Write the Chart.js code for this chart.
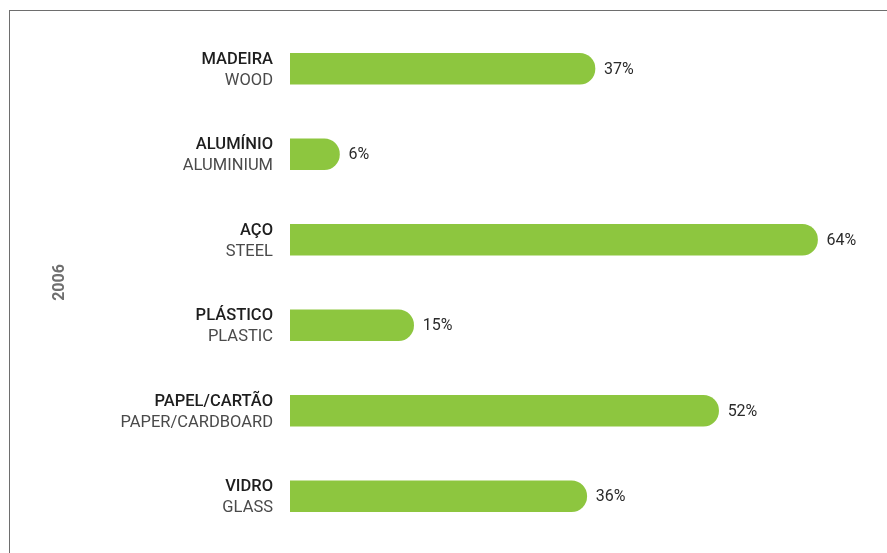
<!DOCTYPE html>
<html>
<head>
<meta charset="utf-8">
<script src="https://cdn.jsdelivr.net/npm/chart.js@4"></script>
<style>
  html, body { margin: 0; padding: 0; background: #fff; }
  #wrap { position: relative; width: 887px; height: 553px; overflow: hidden; }
  #frame {
    position: absolute; left: 9px; top: 10px; right: -2px; bottom: -2px;
    border-top: 1px solid #6e6e6e; border-left: 1px solid #6e6e6e;
  }
  canvas { position: absolute; left: 0; top: 0; }
</style>
</head>
<body>
<div id="wrap">
  <div id="frame"></div>
  <canvas id="materialChart" width="887" height="553"></canvas>
</div>
<script>
const labelsPt = ['MADEIRA', 'ALUMÍNIO', 'AÇO', 'PLÁSTICO', 'PAPEL/CARTÃO', 'VIDRO'];
const labelsEn = ['WOOD', 'ALUMINIUM', 'STEEL', 'PLASTIC', 'PAPER/CARDBOARD', 'GLASS'];
const values = [37, 6, 64, 15, 52, 36];
const year = '2006';

const fontFamily = 'Roboto, "DejaVu Sans", sans-serif';

// two-line category names on the left, percentages after each bar
const barLabels = {
  id: 'barLabels',
  afterDatasetsDraw(chart) {
    const ctx = chart.ctx;
    const meta = chart.getDatasetMeta(0);
    ctx.save();
    meta.data.forEach((bar, i) => {
      const y = bar.y;
      // value
      ctx.font = '16px ' + fontFamily;
      ctx.fillStyle = '#2b2b2b';
      ctx.textAlign = 'left';
      ctx.textBaseline = 'middle';
      ctx.fillText(values[i] + '%', bar.x + 9, y + 1);
      // names
      const x = chart.chartArea.left - 17;
      ctx.textAlign = 'right';
      ctx.font = '500 16.5px ' + fontFamily;
      ctx.fillStyle = '#1e1e1e';
      ctx.fillText(labelsPt[i], x, y - 9);
      ctx.font = '16.5px ' + fontFamily;
      ctx.fillStyle = '#4a4a4a';
      ctx.fillText(labelsEn[i], x, y + 12);
    });
    ctx.restore();
  }
};

const ctx = document.getElementById('materialChart').getContext('2d');

new Chart(ctx, {
  type: 'bar',
  data: {
    labels: labelsPt,
    datasets: [{
      data: values,
      backgroundColor: '#8dc63f',
      barThickness: 31,
      borderRadius: 16, // start side is skipped, so only the right end is round
    }]
  },
  options: {
    indexAxis: 'y',
    responsive: false,
    animation: false,
    layout: {
      padding: { top: 26, bottom: 14, left: 10, right: 20 }
    },
    plugins: {
      legend: { display: false },
      tooltip: { enabled: false },
    },
    scales: {
      x: {
        display: false,
        min: 0,
        max: 70,
      },
      y: {
        grid: { display: false },
        border: { display: false },
        ticks: { display: false },
        title: {
          display: true,
          text: year,
          color: '#6f6f6f',
          font: { family: fontFamily, size: 16, weight: 'bold' },
          padding: { top: 40, bottom: 0 },
        },
        afterFit(scale) {
          scale.width = 280;
        },
      },
    },
  },
  plugins: [barLabels],
});
</script>
</body>
</html>
